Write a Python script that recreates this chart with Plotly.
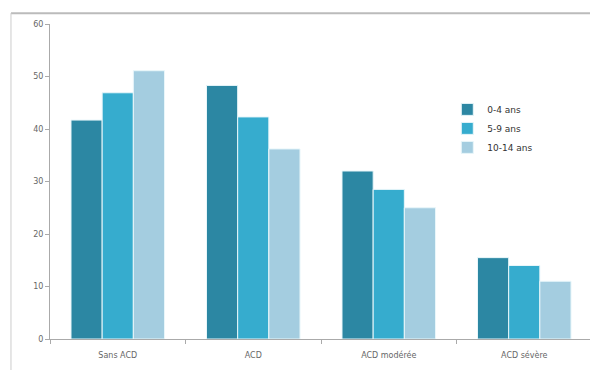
import plotly.graph_objects as go

CATEGORIES = ["Sans ACD", "ACD", "ACD modérée", "ACD sévère"]
AGE_GROUPS = ["0-4 ans", "5-9 ans", "10-14 ans"]
VAL_0_4 = [41.7, 48.3, 32, 15.5]
VAL_5_9 = [46.9, 42.3, 28.5, 14]
VAL_10_14 = [51.1, 36.2, 25, 11]
COLORS = ["#2c87a3", "#36acce", "#a4cde0"]

fig = go.Figure()
for name, vals, col in zip(AGE_GROUPS, [VAL_0_4, VAL_5_9, VAL_10_14], COLORS):
    fig.add_trace(
        go.Bar(
            name=name,
            x=CATEGORIES,
            y=vals,
            marker=dict(color=col, line=dict(color="#e8f6fa", width=1)),
        )
    )

# the page body has an 8px margin, so the margins are shifted to match
fig.update_layout(
    width=598,
    height=370,
    margin=dict(l=42, r=14, t=12, b=39),
    plot_bgcolor="white",
    paper_bgcolor="white",
    barmode="group",
    bargap=0.31,
    bargroupgap=0.0,
    font=dict(family="DejaVu Sans", size=8, color="#666"),
    legend=dict(
        x=0.733, y=0.775, xanchor="left", yanchor="top",
        font=dict(size=9, color="#333"),
        itemwidth=30, tracegroupgap=0,
    ),
    shapes=[
        dict(type="line", xref="paper", yref="paper",
             x0=-0.072, x1=1.03, y0=1.0345, y1=1.0345,
             line=dict(color="#bbb", width=2)),
        dict(type="line", xref="paper", yref="paper",
             x0=-0.072, x1=-0.072, y0=-0.13, y1=1.0345,
             line=dict(color="#ccc", width=1)),
    ],
)
fig.update_yaxes(
    range=[0, 60], dtick=10, showgrid=False,
    showline=True, linecolor="#aaa", ticks="outside", tickcolor="#aaa", ticklen=4,
    zeroline=False,
)
fig.update_xaxes(
    showline=True, linecolor="#aaa", ticks="outside", tickcolor="#aaa", ticklen=4,
    tickson="boundaries", ticklabelstandoff=8,
)

fig.write_html("out.html")
